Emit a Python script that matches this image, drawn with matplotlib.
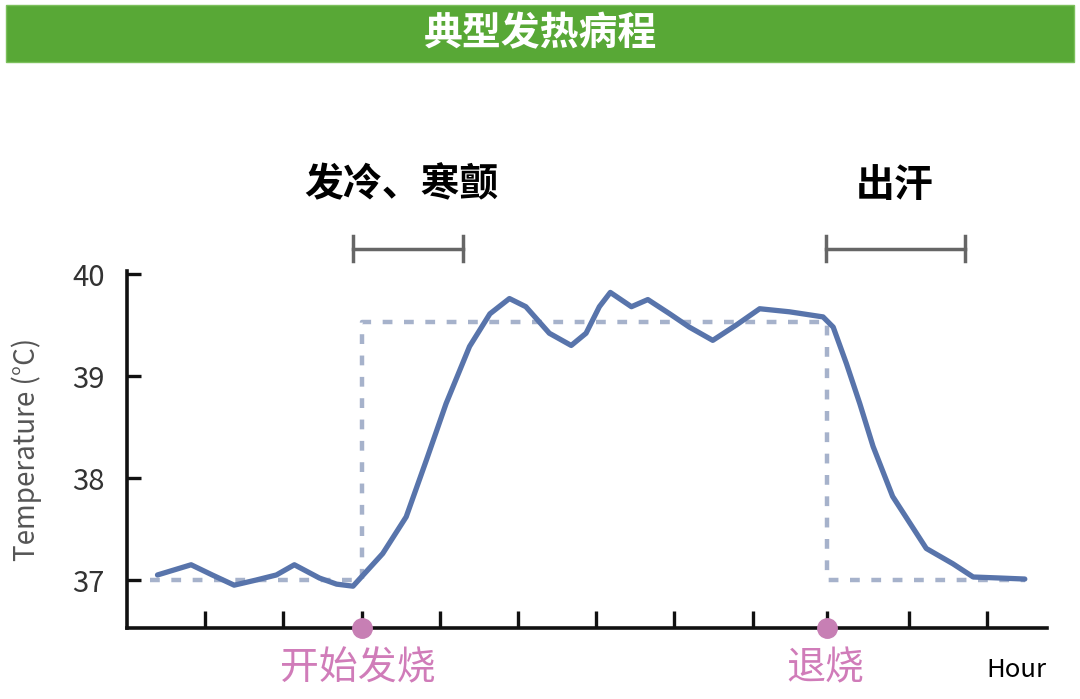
import numpy as np
import matplotlib
matplotlib.use("Agg")
import matplotlib.pyplot as plt
from matplotlib.patches import Rectangle

plt.rcParams['font.family'] = ['Noto Sans CJK SC', 'DejaVu Sans']

# body temperature curve (hour, degC)
hours = [0.39, 0.82, 1.09, 1.37, 1.65, 1.91, 2.14, 2.46, 2.68, 2.89,
         3.27, 3.57, 3.83, 4.08, 4.38, 4.64, 4.89, 5.10, 5.40, 5.68,
         5.87, 6.04, 6.18, 6.45, 6.66, 6.94, 7.19, 7.49, 7.79, 8.09,
         8.47, 8.90, 9.03, 9.20, 9.37, 9.54, 9.79, 10.22, 10.56, 10.82,
         11.16, 11.48]
temps = [37.05, 37.15, 37.05, 36.95, 37.00, 37.05, 37.15, 37.02, 36.96, 36.94,
         37.26, 37.62, 38.18, 38.73, 39.29, 39.61, 39.76, 39.68, 39.42, 39.30,
         39.42, 39.68, 39.82, 39.68, 39.75, 39.61, 39.48, 39.35, 39.50, 39.66,
         39.63, 39.58, 39.48, 39.12, 38.73, 38.31, 37.82, 37.31, 37.16, 37.03,
         37.02, 37.01]

# set point (dashed step)
set_x = [0.29, 3.0, 3.0, 8.95, 8.95, 11.48]
set_y = [37.0, 37.0, 39.53, 39.53, 37.0, 37.0]

event_x = [3.0, 8.95]
event_labels = ['开始发烧', '退烧']

phase_labels = ['发冷、寒颤', '出汗']
phase_start = [2.89, 8.94]
phase_end = [4.29, 10.72]

yticks = [37, 38, 39, 40]
xticks = [1, 2, 3, 4, 5, 6, 7, 8, 8.95, 10, 11]

fig = plt.figure(figsize=(10.8, 6.99), dpi=100)

# green title banner
fig.patches.append(Rectangle((6 / 1080, 1 - 62 / 699), 1068 / 1080, 57 / 699,
                             transform=fig.transFigure, facecolor='#58a836',
                             edgecolor='#7cc05c', linewidth=1.0))
fig.text(0.5, 1 - 34 / 699, '典型发热病程', color='white', fontsize=28,
         fontweight='bold', ha='center', va='center')

ax = fig.add_axes([127 / 1080, 71 / 699, 919.7 / 1080, 357 / 699])
ax.set_xlim(0, 11.76)
ax.set_ylim(36.53, 40.03)

ax.plot(set_x, set_y, color='#a6b2cb', lw=3.2, dashes=(2.2, 2.6), zorder=2)
ax.plot(hours, temps, color='#5874ab', lw=3.8, solid_joinstyle='round',
        solid_capstyle='round', zorder=3)
ax.plot(event_x, [36.53] * len(event_x), 'o', color='#c77fb4', ms=14,
        clip_on=False, zorder=5)

for s, e in zip(phase_start, phase_end):
    ax.plot([s, e], [40.25, 40.25], color='#666666', lw=2.5, clip_on=False)
    for xx in (s, e):
        ax.plot([xx, xx], [40.13, 40.37], color='#666666', lw=2.5, clip_on=False)

for spine in ('top', 'right'):
    ax.spines[spine].set_visible(False)
for spine in ('left', 'bottom'):
    ax.spines[spine].set_linewidth(2.6)
    ax.spines[spine].set_color('#111111')

ax.set_yticks(yticks)
ax.set_yticklabels([str(t) for t in yticks])
ax.set_xticks(xticks)
ax.set_xticklabels([])
ax.tick_params(axis='y', direction='in', length=10, width=2.4, color='#111111',
               labelsize=21, labelcolor='#333333', pad=16)
ax.tick_params(axis='x', direction='in', length=12, width=2.4, color='#111111')

ax.set_ylabel('Temperature (°C)', fontsize=20, color='#555555', labelpad=22)

# phase and event labels
fig.text(401 / 1080, 1 - 185 / 699, phase_labels[0], fontsize=28,
         fontweight='bold', ha='center', va='center', color='black')
fig.text(895 / 1080, 1 - 185 / 699, phase_labels[1], fontsize=28,
         fontweight='bold', ha='center', va='center', color='black')
fig.text(358 / 1080, 1 - 668 / 699, event_labels[0], fontsize=28,
         ha='center', va='center', color='#d07cb9')
fig.text(825 / 1080, 1 - 668 / 699, event_labels[1], fontsize=28,
         ha='center', va='center', color='#d07cb9')
fig.text(1016 / 1080, 1 - 670 / 699, 'Hour', fontsize=18.5,
         ha='center', va='center', color='black')

fig.savefig('out.png', dpi=100, facecolor='white')
